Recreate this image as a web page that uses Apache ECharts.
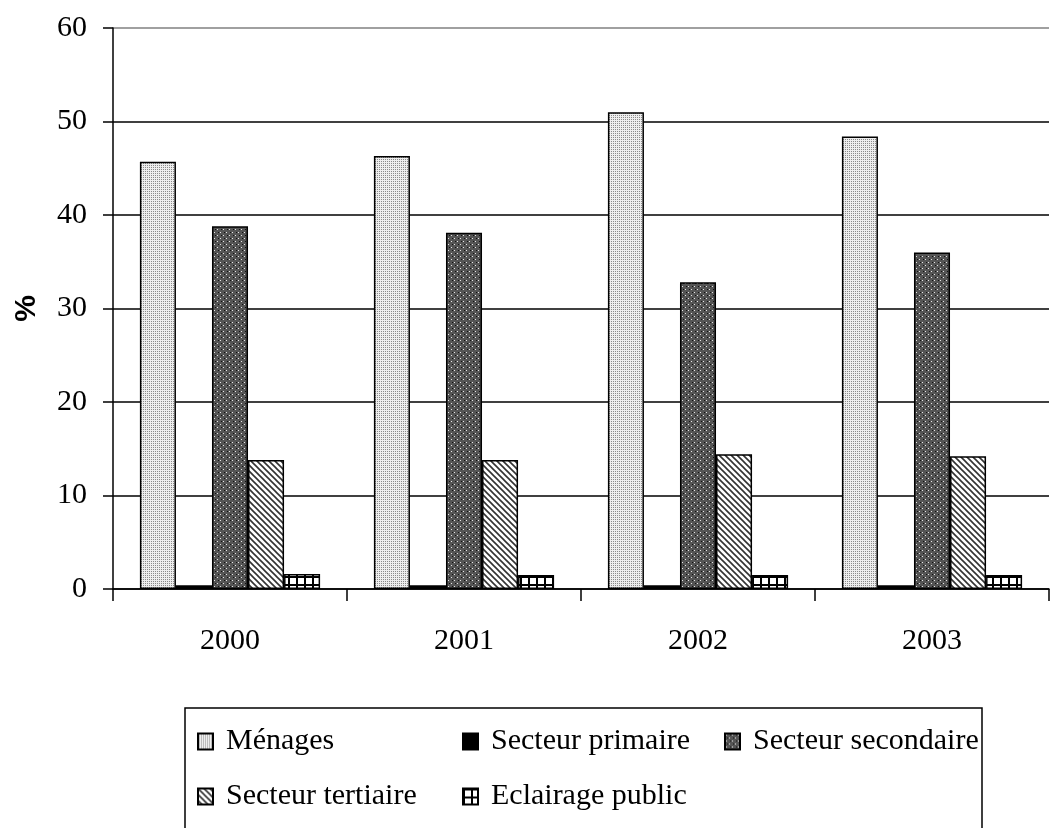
<!DOCTYPE html>
<html>
<head>
<meta charset="utf-8">
<script src="https://cdn.jsdelivr.net/npm/echarts@6/dist/echarts.min.js"></script>
<style>
  html, body { margin: 0; padding: 0; background: #fff; }
  #chart { width: 1050px; height: 828px; }
</style>
</head>
<body>
<div id="chart"></div>
<script>
// données
var years = ["2000", "2001", "2002", "2003"];
var menages = [45.7, 46.3, 51.0, 48.4];
var primaire = [0.4, 0.4, 0.4, 0.4];
var secondaire = [38.8, 38.1, 32.8, 36.0];
var tertiaire = [13.8, 13.8, 14.4, 14.2];
var eclairage = [1.6, 1.5, 1.5, 1.5];
var yTicks = [0, 10, 20, 30, 40, 50, 60];

// motifs de remplissage (hachures)
function makePattern(size, draw) {
  var c = document.createElement("canvas");
  c.width = size;
  c.height = size;
  draw(c.getContext("2d"), size);
  return { image: c, repeat: "repeat" };
}
var dotsLight = makePattern(4, function (ctx) {
  ctx.fillStyle = "#eeeeee";
  ctx.fillRect(0, 0, 4, 4);
  ctx.fillStyle = "#8a8a8a";
  ctx.fillRect(1, 1, 1, 1);
  ctx.fillRect(1, 3, 1, 1);
  ctx.fillRect(3, 1, 1, 1);
  ctx.fillRect(3, 3, 1, 1);
});
var crossDark = makePattern(6, function (ctx) {
  ctx.fillStyle = "#555";
  ctx.fillRect(0, 0, 6, 6);
  ctx.fillStyle = "#e6e6e6";
  ctx.fillRect(1, 1, 1, 1);
  ctx.fillRect(4, 4, 1, 1);
  ctx.fillStyle = "#111";
  ctx.fillRect(2, 4, 1, 1);
  ctx.fillRect(5, 1, 1, 1);
});
var diagLines = makePattern(6, function (ctx) {
  ctx.fillStyle = "#fff";
  ctx.fillRect(0, 0, 6, 6);
  ctx.strokeStyle = "#333";
  ctx.lineWidth = 1.6;
  ctx.beginPath();
  ctx.moveTo(-1, -1); ctx.lineTo(7, 7);
  ctx.moveTo(-4, 2); ctx.lineTo(4, 10);
  ctx.moveTo(2, -4); ctx.lineTo(10, 4);
  ctx.stroke();
});
var gridSq = makePattern(8, function (ctx) {
  ctx.fillStyle = "#fff";
  ctx.fillRect(0, 0, 8, 8);
  ctx.fillStyle = "#000";
  ctx.fillRect(0, 0, 8, 2);
  ctx.fillRect(0, 0, 2, 8);
});

var myChart = echarts.init(document.getElementById("chart"));

var serif = "Liberation Serif";
function barSeries(name, data, fill) {
  return {
    name: name,
    type: "bar",
    data: data,
    barGap: "0%",
    barCategoryGap: "23%",
    itemStyle: { color: fill, borderColor: "#000", borderWidth: 1.5 }
  };
}

// une légende par colonne, pour aligner comme dans l'original
function legendCol(left, names) {
  return {
    data: names,
    orient: "vertical",
    left: left,
    top: 722,
    padding: 0,
    itemGap: 16,
    itemWidth: 15,
    itemHeight: 16,
    icon: "rect",
    textStyle: {
      fontFamily: serif, fontSize: 30, color: "#000",
      lineHeight: 39, padding: [0, 0, 0, 8]
    }
  };
}

var option = {
  animation: false,
  backgroundColor: "#fff",
  grid: { left: 113, right: 1, top: 28, bottom: 239, outerBoundsMode: "none" },
  legend: [
    legendCol(197, ["Ménages", "Secteur tertiaire"]),
    legendCol(462, ["Secteur primaire", "Eclairage public"]),
    legendCol(724, ["Secteur secondaire"])
  ],
  graphic: [{
    type: "rect",
    shape: { x: 185, y: 708, width: 797, height: 130 },
    style: { fill: "none", stroke: "#000", lineWidth: 1.5 },
    z: -1
  }],
  xAxis: {
    type: "category",
    data: years,
    axisLine: { lineStyle: { color: "#000", width: 1.5 } },
    axisTick: { show: true, length: 12, lineStyle: { color: "#000", width: 1.5 } },
    axisLabel: { fontFamily: serif, fontSize: 30, color: "#000", margin: 37 }
  },
  yAxis: {
    type: "value",
    min: yTicks[0],
    max: yTicks[yTicks.length - 1],
    interval: 10,
    name: "%",
    nameLocation: "middle",
    nameRotate: 90,
    nameGap: 71,
    nameTextStyle: { fontFamily: "Liberation Sans", fontWeight: "bold", fontSize: 30, color: "#000" },
    axisLine: { show: true, lineStyle: { color: "#000", width: 1.5 } },
    axisTick: { show: true, length: 10, lineStyle: { color: "#000", width: 1.5 } },
    axisLabel: { fontFamily: serif, fontSize: 30, color: "#000", margin: 26 },
    splitLine: {
      lineStyle: {
        color: ["#000", "#000", "#000", "#000", "#000", "#000", "#808080"],
        width: 1.5
      }
    }
  },
  series: [
    barSeries("Ménages", menages, dotsLight),
    barSeries("Secteur primaire", primaire, "#000"),
    barSeries("Secteur secondaire", secondaire, crossDark),
    barSeries("Secteur tertiaire", tertiaire, diagLines),
    barSeries("Eclairage public", eclairage, gridSq)
  ]
};

myChart.setOption(option);
</script>
</body>
</html>
